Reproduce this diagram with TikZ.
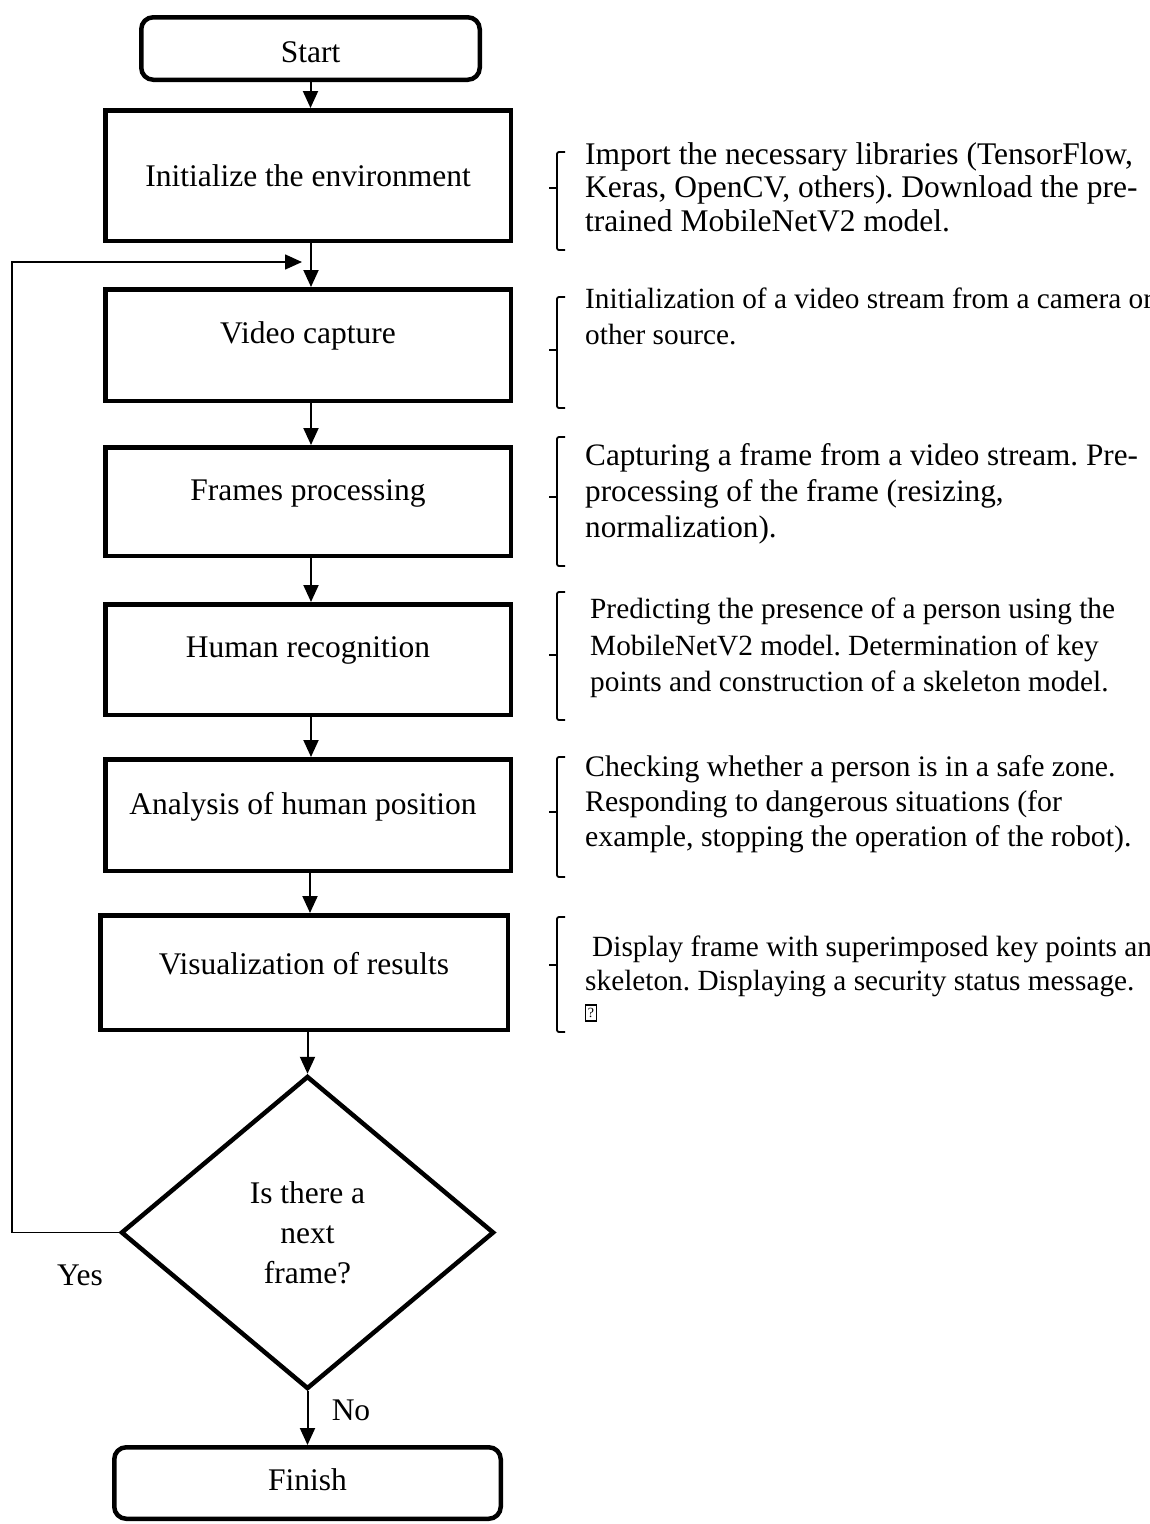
\documentclass[tikz,border=0pt]{standalone}
\usepackage{fontspec}
\setmainfont{Liberation Serif}
\usetikzlibrary{arrows.meta,shapes.geometric}
\begin{document}
\frenchspacing
\begin{tikzpicture}[x=1pt,y=-1pt,
  txt/.style={font=\fontsize{31.5}{40}\selectfont,inner sep=0pt,align=center},
  procbox/.style={draw,line width=4.5pt,inner sep=0pt},
  termbox/.style={draw,line width=4.5pt,rounded corners=12pt,inner sep=0pt},
  decbox/.style={draw,line width=4.5pt,shape=diamond,inner sep=0pt,font=\fontsize{31.5}{40}\selectfont,align=center},
  conn/.style={line width=2pt,-{Triangle[length=17pt,width=15pt]}},
  loopline/.style={line width=1.6pt,-{Triangle[length=17pt,width=15pt]}},
  brk/.style={line width=1.8pt,rounded corners=2pt},
  noteA/.style={anchor=north west,align=left,inner sep=0pt,font=\fontsize{31.5}{33.5}\selectfont},
  noteB/.style={anchor=north west,align=left,inner sep=0pt,font=\fontsize{29.3}{36}\selectfont},
  qbox/.style={draw,line width=1.2pt,inner sep=0pt,minimum width=11pt,minimum height=16pt,font=\fontsize{14}{14}\selectfont}
]
\clip (0,0) rectangle (1150,1524);
\fill[white] (0,0) rectangle (1150,1524);

% boxes
\node[termbox,minimum width=338.5pt,minimum height=62.5pt] (start) at (310.5,48.5) {};
\node[txt] (startt) at (310.5,52) {Start};
\node[procbox,minimum width=405.5pt,minimum height=130.5pt] (init) at (308,175.5) {};
\node[txt] (initt) at (308,176) {Initialize the environment};
\node[procbox,minimum width=405.5pt,minimum height=111.5pt] (video) at (308,345) {};
\node[txt] (videot) at (308,336) {Video capture};
\node[procbox,minimum width=405.5pt,minimum height=108.5pt] (frames) at (308,501.5) {};
\node[txt] (framest) at (308,493) {Frames processing};
\node[procbox,minimum width=405.5pt,minimum height=110.5pt] (human) at (308,659.5) {};
\node[txt] (humant) at (308,650) {Human recognition};
\node[procbox,minimum width=405.5pt,minimum height=111.5pt] (anal) at (308,815) {};
\node[txt] (analt) at (303,807) {Analysis of human position};
\node[procbox,minimum width=407.5pt,minimum height=114.5pt] (visual) at (304,972.5) {};
\node[txt] (visualt) at (304,964) {Visualization of results};
\node[decbox,minimum width=373pt,minimum height=313pt] (dec) at (307.5,1232.5) {Is there a\\next\\frame?};
\node[termbox,minimum width=386.5pt,minimum height=71.5pt] (finish) at (307.5,1483) {};
\node[txt] (finisht) at (307.5,1480) {Finish};

% connectors
\draw[conn] (start.south) -- (start.south |- init.north);
\draw[conn] ([xshift=3pt]init.south) -- ([xshift=3pt]init.south |- video.north);
\draw[conn] ([xshift=3pt]video.south) -- ([xshift=3pt]video.south |- frames.north);
\draw[conn] ([xshift=3pt]frames.south) -- ([xshift=3pt]frames.south |- human.north);
\draw[conn] ([xshift=3pt]human.south) -- ([xshift=3pt]human.south |- anal.north);
\draw[conn] ([xshift=2pt]anal.south) -- ([xshift=2pt]anal.south |- visual.north);
\draw[conn] (dec.north |- visual.south) -- (dec.north);
\draw[conn] (dec.south) -- (dec.south |- finish.north);
\coordinate (lp) at (12,262);
\coordinate (join) at (302,262);
\draw[loopline] (dec.west) -| (lp) -- (join);
\node[txt] (yes) at (80,1275) {Yes};
\node[txt] (no) at (351,1410) {No};

% brackets
\draw[brk] (565,152) -- (557,152) -- (557,250) -- (565,250);
\draw[brk] (557,188) -- (549,188);
\draw[brk] (565,297) -- (557,297) -- (557,408) -- (565,408);
\draw[brk] (557,350) -- (549,350);
\draw[brk] (565,437) -- (557,437) -- (557,566) -- (565,566);
\draw[brk] (557,497) -- (549,497);
\draw[brk] (565,592) -- (557,592) -- (557,720) -- (565,720);
\draw[brk] (557,655) -- (549,655);
\draw[brk] (565,757) -- (557,757) -- (557,877) -- (565,877);
\draw[brk] (557,812) -- (549,812);
\draw[brk] (565,917) -- (557,917) -- (557,1032) -- (565,1032);
\draw[brk] (557,965) -- (549,965);

% notes
\node[noteA] (n1) at (585,142) {Import the necessary libraries (TensorFlow,\\Keras, OpenCV, others). Download the pre-\\trained MobileNetV2 model.};
\node[noteB] (n2) at (585,288) {Initialization of a video stream from a camera or\\other source.};
\node[noteA,font=\fontsize{31.2}{36}\selectfont] (n3) at (585,443) {Capturing a frame from a video stream. Pre-\\processing of the frame (resizing,\\normalization).};
\node[noteB,font=\fontsize{29.3}{36.5}\selectfont] (n4) at (590,598) {Predicting the presence of a person using the\\MobileNetV2 model. Determination of key\\points and construction of a skeleton model.};
\node[noteB,font=\fontsize{29.8}{35}\selectfont] (n5) at (585,755) {Checking whether a person is in a safe zone.\\Responding to dangerous situations (for\\example, stopping the operation of the robot).};
\node[noteB,font=\fontsize{29.3}{34}\selectfont] (n6) at (585,936) {\hspace*{7pt}Display frame with superimposed key points and\\skeleton. Displaying a security status message.};
\node[qbox] (qm) at (591,1013) {?};
\end{tikzpicture}
\end{document}
